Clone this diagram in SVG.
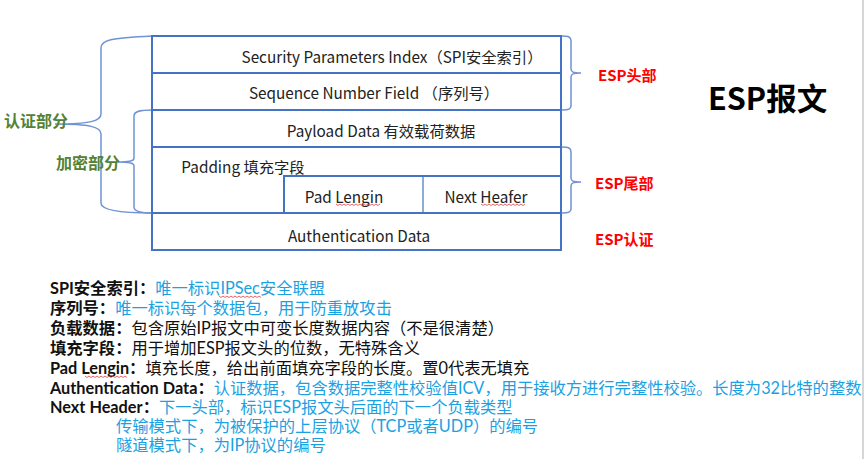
<svg xmlns="http://www.w3.org/2000/svg" width="865" height="459" viewBox="0 0 865 459">
<style>
text{font-family:"Noto Sans CJK SC","Noto Sans",sans-serif;}
.f{fill:#fff;stroke:#4472c4;stroke-width:2}
.d{stroke:#8faadc;stroke-width:2;fill:none}
.br{fill:none;stroke:#6f93d6;stroke-width:1.5}
.t{font-size:15.3px;fill:#222;text-anchor:middle;dominant-baseline:central}
.g{font-size:16px;fill:#548235;font-weight:bold;dominant-baseline:central}
.r{font-size:15px;fill:#ff0000;font-weight:bold;dominant-baseline:central}
.k{font-family:Lato,"Noto Sans CJK SC",sans-serif;font-size:16.3px;fill:#111;dominant-baseline:central}
.b{font-weight:bold}
.c{fill:#1ba1e2}
.sq{fill:none;stroke:#e04040;stroke-width:0.8}
</style>
<rect x="0" y="0" width="865" height="459" fill="#fff"/>
<line x1="863" y1="0" x2="863" y2="459" stroke="#d6d6d6" stroke-width="2"/>

<g id="connectors">
<path class="br" d="M152,36 C110,38 101,40 101,48 L101,114 C101,121 90,124 55,124 C90,124 101,127 101,134 L101,203 C101,210 120,213 152,213"/>
<path class="br" d="M152,110 C138,110 134,112 134,116 L134,158 C134,161 130,162 118,162 C130,162 134,163 134,166 L134,207 C134,211 140,213 152,213"/>
<path class="br" d="M561,36 C569,36 571,37 571,41 L571,69 C571,72 573,73 581,73 C573,73 571,74 571,77 L571,106 C571,109 569,110 561,110"/>
<path class="br" d="M561,147 C569,147 571,148 571,152 L571,178 C571,181 573,182 581,182 C573,182 571,183 571,186 L571,209 C571,212 569,213 561,213"/>
</g>

<g id="spi"><rect class="f" x="152" y="36" width="409" height="37"/><text class="t" x="392" y="56">Security Parameters Index（SPI安全索引）</text></g>
<g id="seq"><rect class="f" x="152" y="73" width="409" height="37"/><text class="t" x="374" y="92">Sequence Number Field （序列号）</text></g>
<g id="payload"><rect class="f" x="152" y="110" width="409" height="37"/><text class="t" x="381" y="130">Payload Data 有效载荷数据</text></g>
<g id="padding"><rect class="f" x="152" y="147" width="409" height="66"/><text class="t" x="243" y="166">Padding 填充字段</text></g>
<g id="padlen"><rect class="f" x="284" y="176" width="139" height="37"/><text class="t" x="344" y="196">Pad Lengin</text>
<path class="sq" d="M336,204 l2,1.5 l2,-1.5 l2,1.5 l2,-1.5 l2,1.5 l2,-1.5 l2,1.5 l2,-1.5 l2,1.5 l2,-1.5 l2,1.5 l2,-1.5 l2,1.5 l2,-1.5 l2,1.5 l2,-1.5 l2,1.5 l2,-1.5 l2,1.5 l2,-1.5 l2,1.5 l2,-1.5"/></g>
<g id="nexthdr"><rect class="f" x="423" y="176" width="138" height="37"/><line class="d" x1="423" y1="177" x2="423" y2="212"/><text class="t" x="486" y="196">Next Heafer</text>
<path class="sq" d="M481,204 l2,1.5 l2,-1.5 l2,1.5 l2,-1.5 l2,1.5 l2,-1.5 l2,1.5 l2,-1.5 l2,1.5 l2,-1.5 l2,1.5 l2,-1.5 l2,1.5 l2,-1.5 l2,1.5 l2,-1.5 l2,1.5 l2,-1.5 l2,1.5 l2,-1.5 l2,1.5 l2,-1.5"/></g>
<g id="auth"><rect class="f" x="152" y="213" width="409" height="37"/><text class="t" x="359" y="235">Authentication Data</text></g>

<g id="lbl-auth"><text class="g" x="4" y="120">认证部分</text></g>
<g id="lbl-enc"><text class="g" x="56" y="162">加密部分</text></g>
<g id="lbl-head"><text class="r" x="598" y="74">ESP头部</text></g>
<g id="lbl-tail"><text class="r" x="595" y="182">ESP尾部</text></g>
<g id="lbl-icv"><text class="r" x="595" y="238">ESP认证</text></g>
<g id="title"><text x="708" y="97" font-size="30.5" font-weight="bold" fill="#000" dominant-baseline="central">ESP报文</text></g>

<g id="notes">
<text class="k" x="50" y="287"><tspan class="b">SPI安全索引：</tspan><tspan class="c">唯一标识IPSec安全联盟</tspan></text>
<path class="sq" d="M219,296 l2,1.5 l2,-1.5 l2,1.5 l2,-1.5 l2,1.5 l2,-1.5 l2,1.5 l2,-1.5 l2,1.5 l2,-1.5 l2,1.5 l2,-1.5 l2,1.5 l2,-1.5 l2,1.5 l2,-1.5 l2,1.5 l2,-1.5 l2,1.5 l2,-1.5 l2,1.5"/>
<text class="k" x="50" y="307"><tspan class="b">序列号：</tspan><tspan class="c">唯一标识每个数据包，用于防重放攻击</tspan></text>
<text class="k" x="50" y="327"><tspan class="b">负载数据：</tspan>包含原始IP报文中可变长度数据内容（不是很清楚）</text>
<text class="k" x="50" y="347"><tspan class="b">填充字段：</tspan>用于增加ESP报文头的位数，无特殊含义</text>
<text class="k" x="50" y="367"><tspan class="b">Pad Lengin：</tspan>填充长度，给出前面填充字段的长度。置0代表无填充</text>
<path class="sq" d="M85,376 l2,1.5 l2,-1.5 l2,1.5 l2,-1.5 l2,1.5 l2,-1.5 l2,1.5 l2,-1.5 l2,1.5 l2,-1.5 l2,1.5 l2,-1.5 l2,1.5 l2,-1.5 l2,1.5 l2,-1.5 l2,1.5 l2,-1.5 l2,1.5 l2,-1.5 l2,1.5"/>
<text class="k" x="50" y="387"><tspan class="b">Authentication Data：</tspan><tspan class="c">认证数据，包含数据完整性校验值ICV，用于接收方进行完整性校验。长度为32比特的整数</tspan></text>
<text class="k" x="50" y="406"><tspan class="b">Next Header：</tspan><tspan class="c">下一头部，标识ESP报文头后面的下一个负载类型</tspan></text>
<text class="k c" x="116" y="425">传输模式下，为被保护的上层协议（TCP或者UDP）的编号</text>
<text class="k c" x="116" y="444">隧道模式下，为IP协议的编号</text>
</g>
</svg>
